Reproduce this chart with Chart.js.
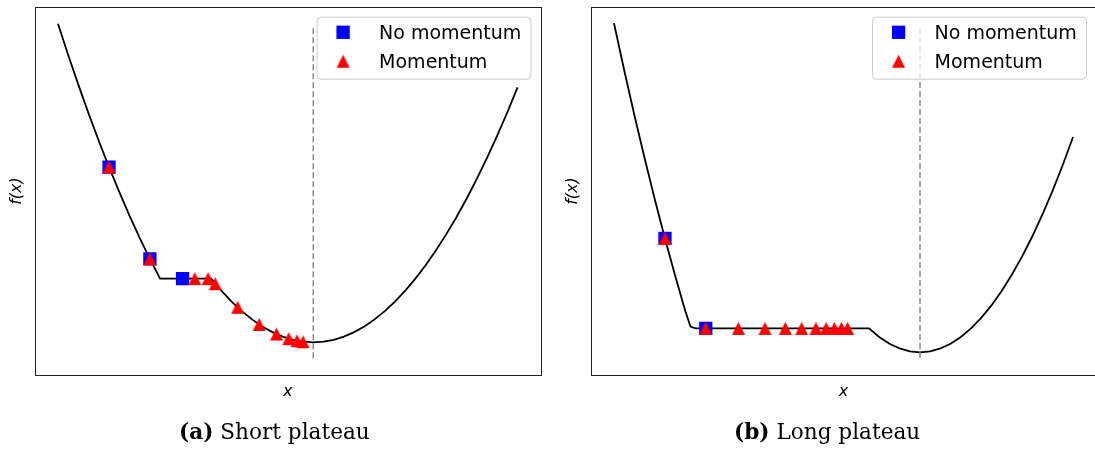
<!DOCTYPE html>
<html>
<head>
<meta charset="utf-8">
<script src="https://cdn.jsdelivr.net/npm/chart.js@4.4.0/dist/chart.umd.min.js"></script>
<style>
  html, body { margin: 0; padding: 0; background: #fff; overflow: hidden; }
  body { width: 1095px; height: 450px; position: relative; }
  .panel { position: absolute; top: 0; width: 560px; height: 450px; }
  .caption { position: absolute; top: 419px; font-family: "DejaVu Serif", serif; font-size: 21.6px; line-height: normal; color: #000; white-space: nowrap; }
</style>
</head>
<body>
<div class="panel" style="left:0"><canvas id="shortChart"></canvas></div>
<div class="panel" style="left:560px"><canvas id="longChart"></canvas></div>
<div class="caption" style="left:179px"><b>(a)</b> Short plateau</div>
<div class="caption" style="left:734px"><b>(b)</b> Long plateau</div>
<script>
// (a) short plateau: the loss curve, the minimum and the two optimiser runs
const shortX = [-2.5, -2.4, -2.3, -2.2, -2.1, -2.0, -1.9, -1.8, -1.7, -1.6, -1.5, -1.4, -1.3, -1.2, -1.1, -1.0,
  -0.9, -0.8, -0.7, -0.6, -0.5, -0.4, -0.3, -0.2, -0.1, 0, 0.1, 0.2, 0.3, 0.4, 0.5, 0.6, 0.7, 0.8, 0.9, 1.0,
  1.1, 1.2, 1.3, 1.4, 1.5, 1.6, 1.7, 1.8, 1.9, 2.0]
const shortF = [5.00, 4.51, 4.04, 3.59, 3.16, 2.75, 2.36, 1.99, 1.64, 1.31, 1.00, 1.00, 1.00, 1.00, 1.00, 1.00,
  0.81, 0.64, 0.49, 0.36, 0.25, 0.16, 0.09, 0.04, 0.01, 0.00, 0.01, 0.04, 0.09, 0.16, 0.25, 0.36, 0.49, 0.64, 0.81, 1.00,
  1.21, 1.44, 1.69, 1.96, 2.25, 2.56, 2.89, 3.24, 3.61, 4.00]
const shortMinX = [0, 0]
const shortMinF = [-0.25, 4.95]
const shortPlainX = [-2.0, -1.6, -1.28]
const shortPlainF = [2.75, 1.31, 1.00]
const shortMomX = [-2.0, -1.6, -1.16, -1.03, -0.96, -0.74, -0.53, -0.36, -0.24, -0.16, -0.10]
const shortMomF = [2.75, 1.31, 1.00, 1.00, 0.92, 0.55, 0.28, 0.13, 0.058, 0.026, 0.01]

// (b) long plateau
const longX = [-3.0, -2.9, -2.8, -2.7, -2.6, -2.5, -2.4, -2.3, -2.25, -2.2, -2.1, -2.0, -1.9, -1.8, -1.7, -1.6,
  -1.5, -1.4, -1.3, -1.2, -1.1, -1.0, -0.9, -0.8, -0.7, -0.6, -0.5, -0.4, -0.3, -0.2, -0.1, 0, 0.1, 0.2, 0.3,
  0.4, 0.5, 0.6, 0.7, 0.8, 0.9, 1.0, 1.1, 1.2, 1.3, 1.4, 1.5]
const longF = [3.44, 2.95, 2.48, 2.03, 1.60, 1.19, 0.80, 0.43, 0.27, 0.25, 0.25, 0.25, 0.25, 0.25, 0.25, 0.25,
  0.25, 0.25, 0.25, 0.25, 0.25, 0.25, 0.25, 0.25, 0.25, 0.25, 0.25, 0.16, 0.09, 0.04, 0.01, 0.00, 0.01, 0.04, 0.09,
  0.16, 0.25, 0.36, 0.49, 0.64, 0.81, 1.00, 1.21, 1.44, 1.69, 1.96, 2.25]
const longMinX = [0, 0]
const longMinF = [-0.06, 3.40]
const longPlainX = [-2.5, -2.1]
const longPlainF = [1.19, 0.25]
const longMomX = [-2.5, -2.1, -1.78, -1.52, -1.32, -1.16, -1.02, -0.92, -0.84, -0.77, -0.71]
const longMomF = [1.19, 0.25, 0.25, 0.25, 0.25, 0.25, 0.25, 0.25, 0.25, 0.25, 0.25]

const legendLabels = ['No momentum', 'Momentum']

const toPoints = (xs, ys) => xs.map((x, i) => ({ x: x, y: ys[i] }))

// red '^' marker as a small canvas, so it is as tall as it is wide
function makeTriangle(size, color) {
    const c = document.createElement('canvas')
    c.width = size + 2
    c.height = size + 2
    const g = c.getContext('2d')
    g.fillStyle = color
    g.beginPath()
    g.moveTo(1 + size / 2, 1)
    g.lineTo(1 + size, 1 + size)
    g.lineTo(1, 1 + size)
    g.closePath()
    g.fill()
    return c
}
const triangle = makeTriangle(13, '#ff0000')
const SQUARE_RADIUS = 9.4

// frame, axis labels and the boxed legend in the upper right
const panelDecor = {
    id: 'panelDecor',
    afterDatasetsDraw(chart) {
        const { ctx, chartArea: a } = chart
        ctx.save()

        ctx.strokeStyle = '#222'
        ctx.lineWidth = 1
        ctx.strokeRect(Math.round(a.left) + 0.5, Math.round(a.top) + 0.5,
            Math.round(a.right - a.left), Math.round(a.bottom - a.top))

        ctx.fillStyle = '#000'
        ctx.font = 'italic 16px "DejaVu Sans"'
        ctx.textAlign = 'center'
        ctx.textBaseline = 'alphabetic'
        ctx.fillText('x', (a.left + a.right) / 2, a.bottom + 21)
        ctx.save()
        ctx.translate(a.left - 14, (a.top + a.bottom) / 2)
        ctx.rotate(-Math.PI / 2)
        ctx.fillText('f(x)', 0, 0)
        ctx.restore()

        // legend box
        const bw = 214, bh = 62
        const bx = a.right - 10 - bw, by = a.top + 9.7
        ctx.beginPath()
        ctx.roundRect(bx + 0.5, by + 0.5, bw, bh, 4)
        ctx.fillStyle = 'rgba(255,255,255,0.8)'
        ctx.fill()
        ctx.strokeStyle = '#cccccc'
        ctx.lineWidth = 1
        ctx.stroke()

        const mx = bx + 26.6
        ctx.fillStyle = '#0000ff'
        const side = SQUARE_RADIUS * Math.SQRT2
        ctx.fillRect(mx - side / 2, by + 15.6 - side / 2, side, side)
        ctx.drawImage(triangle, mx - triangle.width / 2, by + 44.5 - triangle.height / 2)

        ctx.fillStyle = '#000'
        ctx.font = '19px "DejaVu Sans"'
        ctx.textAlign = 'left'
        ctx.fillText(legendLabels[0], bx + 62.6, by + 22.6)
        ctx.fillText(legendLabels[1], bx + 62.6, by + 51)

        ctx.restore()
    }
}

function makePanel(id, p) {
    const ctx = document.getElementById(id).getContext('2d')
    return new Chart(ctx, {
        type: 'scatter',
        data: {
            datasets: [
                {
                    label: legendLabels[1],
                    data: toPoints(p.momX, p.momF),
                    pointStyle: triangle,
                    pointRadius: 7,
                    pointHoverRadius: 7,
                    order: 0
                },
                {
                    label: legendLabels[0],
                    data: toPoints(p.plainX, p.plainF),
                    pointStyle: 'rect',
                    pointRadius: SQUARE_RADIUS,
                    pointHoverRadius: SQUARE_RADIUS,
                    backgroundColor: '#0000ff',
                    borderWidth: 0,
                    order: 1
                },
                {
                    label: 'minimum',
                    data: toPoints(p.minX, p.minF),
                    showLine: true,
                    borderColor: '#8a8a8a',
                    borderWidth: 1.5,
                    borderDash: [6, 3],
                    pointRadius: 0,
                    order: 2
                },
                {
                    label: 'f',
                    data: toPoints(p.curveX, p.curveF),
                    showLine: true,
                    borderColor: '#000',
                    borderWidth: 1.8,
                    tension: 0,
                    pointRadius: 0,
                    order: 3
                }
            ]
        },
        options: {
            responsive: true,
            maintainAspectRatio: false,
            animation: false,
            events: [],
            layout: { autoPadding: false, padding: p.padding },
            scales: {
                x: { type: 'linear', display: false, min: p.xMin, max: p.xMax },
                y: { type: 'linear', display: false, min: p.yMin, max: p.yMax }
            },
            plugins: {
                legend: { display: false },
                tooltip: { enabled: false }
            }
        },
        plugins: [panelDecor]
    })
}

makePanel('shortChart', {
    curveX: shortX, curveF: shortF, minX: shortMinX, minF: shortMinF,
    plainX: shortPlainX, plainF: shortPlainF, momX: shortMomX, momF: shortMomF,
    xMin: -2.725, xMax: 2.225, yMin: -0.5125, yMax: 5.2625,
    padding: { left: 35, top: 7, right: 19.5, bottom: 75 }
})

makePanel('longChart', {
    curveX: longX, curveF: longF, minX: longMinX, minF: longMinF,
    plainX: longPlainX, plainF: longPlainF, momX: longMomX, momF: longMomF,
    xMin: -3.225, xMax: 1.725, yMin: -0.237, yMax: 3.608,
    padding: { left: 31, top: 7, right: 24, bottom: 75 }
})
</script>
</body>
</html>
